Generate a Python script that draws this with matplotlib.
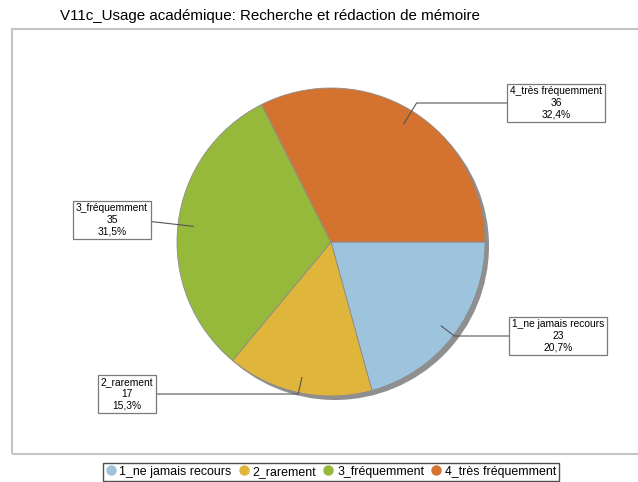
import matplotlib
matplotlib.use("Agg")
import matplotlib.pyplot as plt
import numpy as np
from matplotlib.patches import Rectangle, Circle
from matplotlib.lines import Line2D

title = "V11c_Usage académique: Recherche et rédaction de mémoire"
categories = ["1_ne jamais recours", "2_rarement", "3_fréquemment", "4_très fréquemment"]
counts = [23, 17, 35, 36]
colors = ["#9dc3dd", "#e0b53b", "#97b93b", "#d4732f"]

# label box positions (image pixel coords) and which side the connector attaches
box_pos = [(558, 336, "left"), (127, 394, "right"), (112, 220, "right"), (556, 103, "left")]

W, H = 638, 482
fig = plt.figure(figsize=(W / 100, H / 100), dpi=100)
ax = fig.add_axes([0, 0, 1, 1])

cx, cy, r = 331, 242, 154

# shadow
ax.add_patch(Circle((cx + 4, cy + 4), r, facecolor="#8f8f8f", edgecolor="none", zorder=1))

wedges, _ = ax.pie(counts, colors=colors, startangle=0, counterclock=True,
                   center=(cx, cy), radius=r,
                   wedgeprops=dict(edgecolor="#8c8c8c", linewidth=0.6, zorder=2))
ax.set_xlim(0, W)
ax.set_ylim(H, 0)
ax.set_aspect("equal")
ax.axis("off")

total = sum(counts)
lab_font = dict(family=["Liberation Sans", "DejaVu Sans"], fontsize=7.4)
for w, cat, n, (bx, by, side) in zip(wedges, categories, counts, box_pos):
    mid = np.deg2rad((w.theta1 + w.theta2) / 2)
    dx, dy = np.cos(mid), np.sin(mid)
    p0 = (cx + 0.9 * r * dx, cy + 0.9 * r * dy)
    pct = f"{100 * n / total:.1f}".replace(".", ",")
    txt = ax.text(bx, by, f"{cat}\n{n}\n{pct}%", ha="center", va="center",
                  linespacing=1.2, zorder=5, **lab_font,
                  bbox=dict(boxstyle="square,pad=0.25", facecolor="white",
                            edgecolor="#7a7a7a", linewidth=0.9))
    fig.canvas.draw()
    bb = txt.get_bbox_patch().get_window_extent()
    inv = ax.transData.inverted()
    (x0, y0), (x1, y1) = inv.transform([(bb.x0, bb.y0), (bb.x1, bb.y1)])
    ex = x0 if side == "left" else x1
    ey = (y0 + y1) / 2
    t = (ey - p0[1]) / dy
    elbow = (p0[0] + t * dx, ey)
    ax.plot([p0[0], elbow[0], ex], [p0[1], elbow[1], ey], color="#555555",
            linewidth=0.8, zorder=4)

# chart frame
fig.patches.append(Rectangle((12 / W, 1 - 454 / H), (W - 12) / W + 0.01, (454 - 29) / H,
                             transform=fig.transFigure, fill=False,
                             edgecolor="#c4c4c4", linewidth=1.5))

fig.text(270 / W, 1 - 16 / H, title, ha="center", va="center",
         family=["Liberation Sans", "DejaVu Sans"], fontsize=10.9)

handles = [Line2D([], [], marker="o", linestyle="none", markersize=6.5,
                  markerfacecolor=c, markeredgecolor=c) for c in colors]
leg = fig.legend(handles, categories, loc="lower center", ncol=4,
                 bbox_to_anchor=(331 / W, 0.0), frameon=True, fancybox=False,
                 prop=dict(family=["Liberation Sans", "DejaVu Sans"], size=8.9),
                 handlelength=0.8, handletextpad=0.3, columnspacing=0.6,
                 borderpad=0.25, borderaxespad=0.1)
leg.get_frame().set_edgecolor("#222222")
leg.get_frame().set_linewidth(1.0)

fig.savefig("out.png", dpi=100)
